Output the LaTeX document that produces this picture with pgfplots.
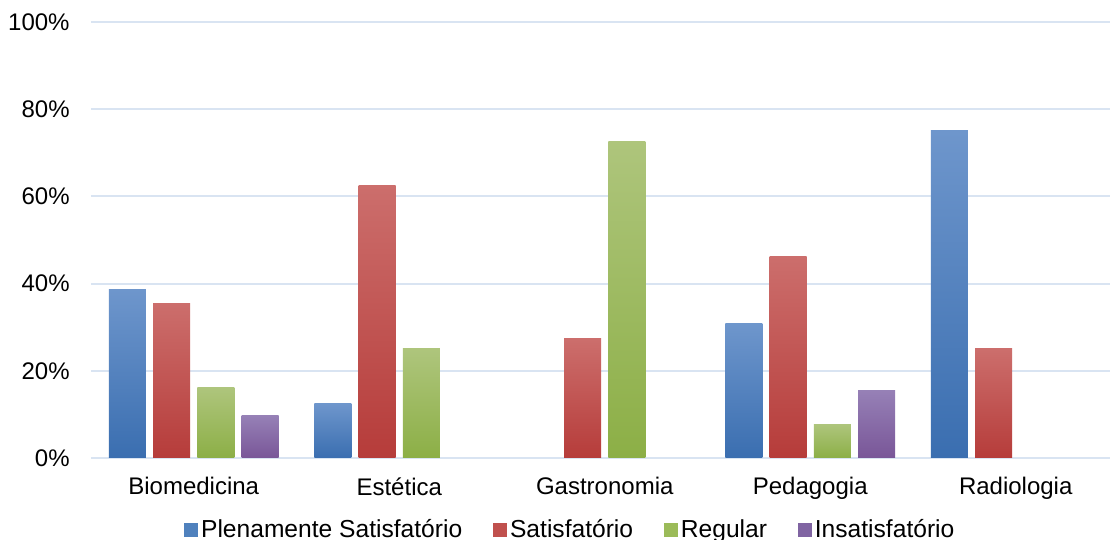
\documentclass[border=0pt]{standalone}
\usepackage{fontspec}
\setmainfont{Liberation Sans}
\usepackage{pgfplots}
\pgfplotsset{compat=1.18}
\definecolor{gridc}{RGB}{217,228,242}
\definecolor{bT}{RGB}{110,150,204}
\definecolor{bB}{RGB}{58,110,176}
\definecolor{bL}{RGB}{79,129,189}
\definecolor{rT}{RGB}{204,110,108}
\definecolor{rB}{RGB}{182,60,58}
\definecolor{rL}{RGB}{192,80,77}
\definecolor{gT}{RGB}{174,197,124}
\definecolor{gB}{RGB}{140,175,70}
\definecolor{gL}{RGB}{155,187,89}
\definecolor{pT}{RGB}{150,128,182}
\definecolor{pB}{RGB}{121,86,152}
\definecolor{pL}{RGB}{128,100,162}
\pgfplotsset{
  bS/.style={ybar, bar width=18.5pt, draw=none, forget plot, bar shift=-33.2pt, top color=bT, bottom color=bB},
  rS/.style={ybar, bar width=18.5pt, draw=none, forget plot, bar shift=-11.07pt, top color=rT, bottom color=rB},
  gS/.style={ybar, bar width=18.5pt, draw=none, forget plot, bar shift=11.07pt, top color=gT, bottom color=gB},
  pS/.style={ybar, bar width=18.5pt, draw=none, forget plot, bar shift=33.2pt, top color=pT, bottom color=pB},
}
\begin{document}
\fontsize{12}{14}\selectfont
\begin{tikzpicture}
\begin{axis}[
  at={(0,0)}, anchor=south west,
  scale only axis,
  width=513.75pt, height=218pt,
  xmin=-0.5, xmax=4.5,
  ymin=0, ymax=100,
  axis line style={draw=none},
  major tick length=0pt,
  tick style={draw=none},
  ymajorgrids,
  grid style={gridc, line width=1pt},
  ytick={0,20,40,60,80,100},
  yticklabels={0\%,20\%,40\%,60\%,80\%,100\%},
  xtick={0,1,2,3,4},
  xticklabels={Biomedicina,Estética,Gastronomia,Pedagogia,Radiologia},
  yticklabel style={anchor=east, inner sep=0pt, xshift=-10.5pt, font=\fontsize{12}{14}\selectfont},
  xticklabel style={anchor=north, inner sep=0pt, yshift=-9.5pt, font=\fontsize{12}{14}\selectfont},
  legend columns=-1,
  legend style={draw=none, fill=none, at={(0.467,-0.165)}, anchor=center,
    font=\fontsize{12.3}{14}\selectfont, inner sep=0pt,
    /tikz/every even column/.append style={column sep=14pt},
    nodes={inner sep=1.5pt}},
]
\addlegendimage{legend image code/.code={\fill[bL] (0pt,-3pt) rectangle (6.5pt,3.5pt);}}
\addlegendentry{Plenamente Satisfatório}
\addlegendimage{legend image code/.code={\fill[rL] (0pt,-3pt) rectangle (6.5pt,3.5pt);}}
\addlegendentry{Satisfatório}
\addlegendimage{legend image code/.code={\fill[gL] (0pt,-3pt) rectangle (6.5pt,3.5pt);}}
\addlegendentry{Regular}
\addlegendimage{legend image code/.code={\fill[pL] (0pt,-3pt) rectangle (6.5pt,3.5pt);}}
\addlegendentry{Insatisfatório}
% Plenamente Satisfatorio
\addplot[bS] coordinates {(0,38.7)};
\addplot[bS] coordinates {(1,12.5)};
\addplot[bS] coordinates {(3,30.8)};
\addplot[bS] coordinates {(4,75.0)};
% Satisfatorio
\addplot[rS] coordinates {(0,35.5)};
\addplot[rS] coordinates {(1,62.5)};
\addplot[rS] coordinates {(2,27.3)};
\addplot[rS] coordinates {(3,46.2)};
\addplot[rS] coordinates {(4,25.0)};
% Regular
\addplot[gS] coordinates {(0,16.1)};
\addplot[gS] coordinates {(1,25.0)};
\addplot[gS] coordinates {(2,72.7)};
\addplot[gS] coordinates {(3,7.7)};
% Insatisfatorio
\addplot[pS] coordinates {(0,9.7)};
\addplot[pS] coordinates {(3,15.4)};
\end{axis}
\pgfresetboundingbox
\useasboundingbox (-45.5pt,-41pt) rectangle (509.5pt,229pt);
\end{tikzpicture}
\end{document}
